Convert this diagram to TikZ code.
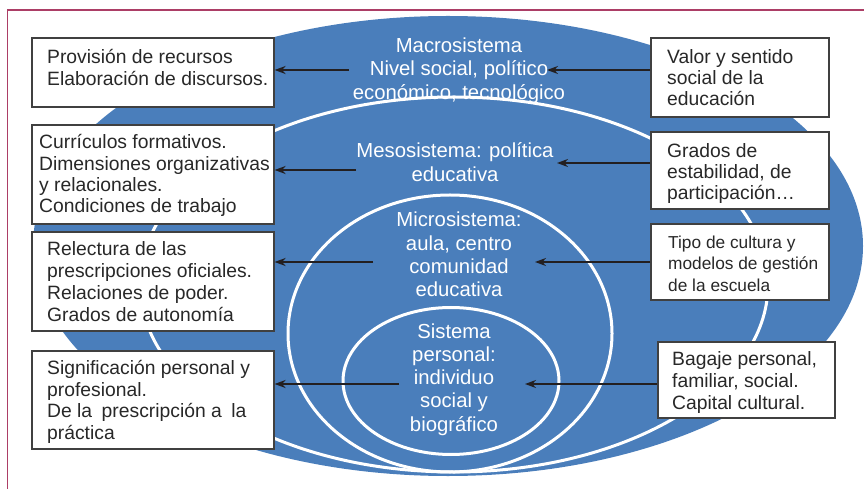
\documentclass[tikz,border=0pt]{standalone}
\usepackage{fontspec}
\setmainfont{Liberation Sans}
\usetikzlibrary{arrows.meta}
\definecolor{sysblue}{RGB}{74,126,187}
\definecolor{framecol}{RGB}{172,62,102}
\definecolor{boxline}{RGB}{64,64,64}
\definecolor{inkcol}{RGB}{35,31,32}
\definecolor{boxink}{RGB}{40,40,40}
\begin{document}
\begin{tikzpicture}[x=1bp,y=-1bp,
  ring/.style={draw=white, line width=3bp},
  sysbox/.style={draw=boxline, fill=white, line width=1.2bp, rectangle, inner sep=0pt},
  boxtext/.style={text=boxink, inner sep=0pt, anchor=base west, align=left,
     font=\fontsize{19.3bp}{#1}\selectfont},
  systext/.style={text=white, inner sep=0pt, anchor=base, align=center,
     font=\fontsize{20.3bp}{23.3bp}\selectfont},
  arr/.style={draw=inkcol, line width=1.8bp, -{Stealth[length=11bp,width=8bp]}}
]
\useasboundingbox (0,0) rectangle (864,489);
\fill[white] (0,0) rectangle (864,489);
\draw[framecol, line width=1.8bp] (7.5,489) -- (7.5,10) -- (864,10);

% outer ellipse (macrosistema)
\fill[sysblue] (448,246) ellipse [x radius=415bp, y radius=230bp];

% texts inside the ellipses (anchored on the baseline of their last line)
\node[systext] (macro) at (459,99.1) {Macrosistema\\Nivel social, político\\económico, tecnológico};
\node[systext] (meso) at (455,181.3) {Mesosistema: política\\educativa};
\node[systext] (micro) at (459,296.9) {Microsistema:\\aula, centro\\comunidad\\educativa};
\node[systext] (pers) at (454,431.2) {Sistema\\personal:\\individuo\\social y\\biográfico};

% inner rings
\draw[ring] (454,284.5) ellipse [x radius=314bp, y radius=187.5bp];
\draw[ring] (450,333.5) ellipse [x radius=162bp, y radius=138.5bp];
\draw[ring] (451,381) ellipse [x radius=108bp, y radius=73.5bp];

% left boxes
\node[sysbox, minimum width=242bp, minimum height=69bp] (L1) at (153,72.5) {};
\node[sysbox, minimum width=242bp, minimum height=99bp] (L2) at (153,174.5) {};
\node[sysbox, minimum width=242bp, minimum height=99bp] (L3) at (153,281.5) {};
\node[sysbox, minimum width=242bp, minimum height=98bp] (L4) at (153,400) {};
% right boxes
\node[sysbox, minimum width=178bp, minimum height=79bp] (R1) at (740,77.5) {};
\node[sysbox, minimum width=178bp, minimum height=77bp] (R2) at (740,170.5) {};
\node[sysbox, minimum width=178bp, minimum height=76bp] (R3) at (740,262) {};
\node[sysbox, minimum width=177bp, minimum height=76bp] (R4) at (746.5,380) {};

% box texts (anchored on the baseline of their last line)
\node[boxtext=22bp] (tL1) at (47,86) {Provisión de recursos\\Elaboración de discursos.};
\node[boxtext=21.3bp] (tL2) at (39,212.9) {Currículos formativos.\\Dimensiones organizativas\\y relacionales.\\Condiciones de trabajo};
\node[boxtext=22bp] (tL3) at (47,322) {Relectura de las\\prescripciones oficiales.\\Relaciones de poder.\\Grados de autonomía};
\node[boxtext=21.7bp] (tL4) at (47,439.4) {Significación personal y\\profesional.\\De la\hspace{9.5bp}prescripción a\hspace{9.5bp}la\\práctica};
\node[boxtext=21bp] (tR1) at (667,106) {Valor y sentido\\social de la\\educación};
\node[boxtext=21bp] (tR2) at (667,199.3) {Grados de\\estabilidad, de\\participación…};
\node[boxtext=21.5bp, font=\fontsize{17.3bp}{21.5bp}\selectfont] (tR3) at (668,291.3) {Tipo de cultura y\\modelos de gestión\\de la escuela};
\node[boxtext=22bp] (tR4) at (672,409) {Bagaje personal,\\familiar, social.\\Capital cultural.};

% arrow start points inside the ellipses
\coordinate (a1) at (349,70);
\coordinate (a2) at (356,170);
\coordinate (a3) at (373,262);
\coordinate (a4) at (399,384);
\coordinate (b1) at (547,70);
\coordinate (b2) at (557,163);
\coordinate (b3) at (535,262);
\coordinate (b4) at (525,384);

\draw[arr] (a1) -- (a1 -| L1.east);
\draw[arr] (a2) -- (a2 -| L2.east);
\draw[arr] (a3) -- (a3 -| L3.east);
\draw[arr] (a4) -- (a4 -| L4.east);
\draw[arr] (b1 -| R1.west) -- (b1);
\draw[arr] (b2 -| R2.west) -- (b2);
\draw[arr] (b3 -| R3.west) -- (b3);
\draw[arr] (b4 -| R4.west) -- (b4);
\end{tikzpicture}
\end{document}
